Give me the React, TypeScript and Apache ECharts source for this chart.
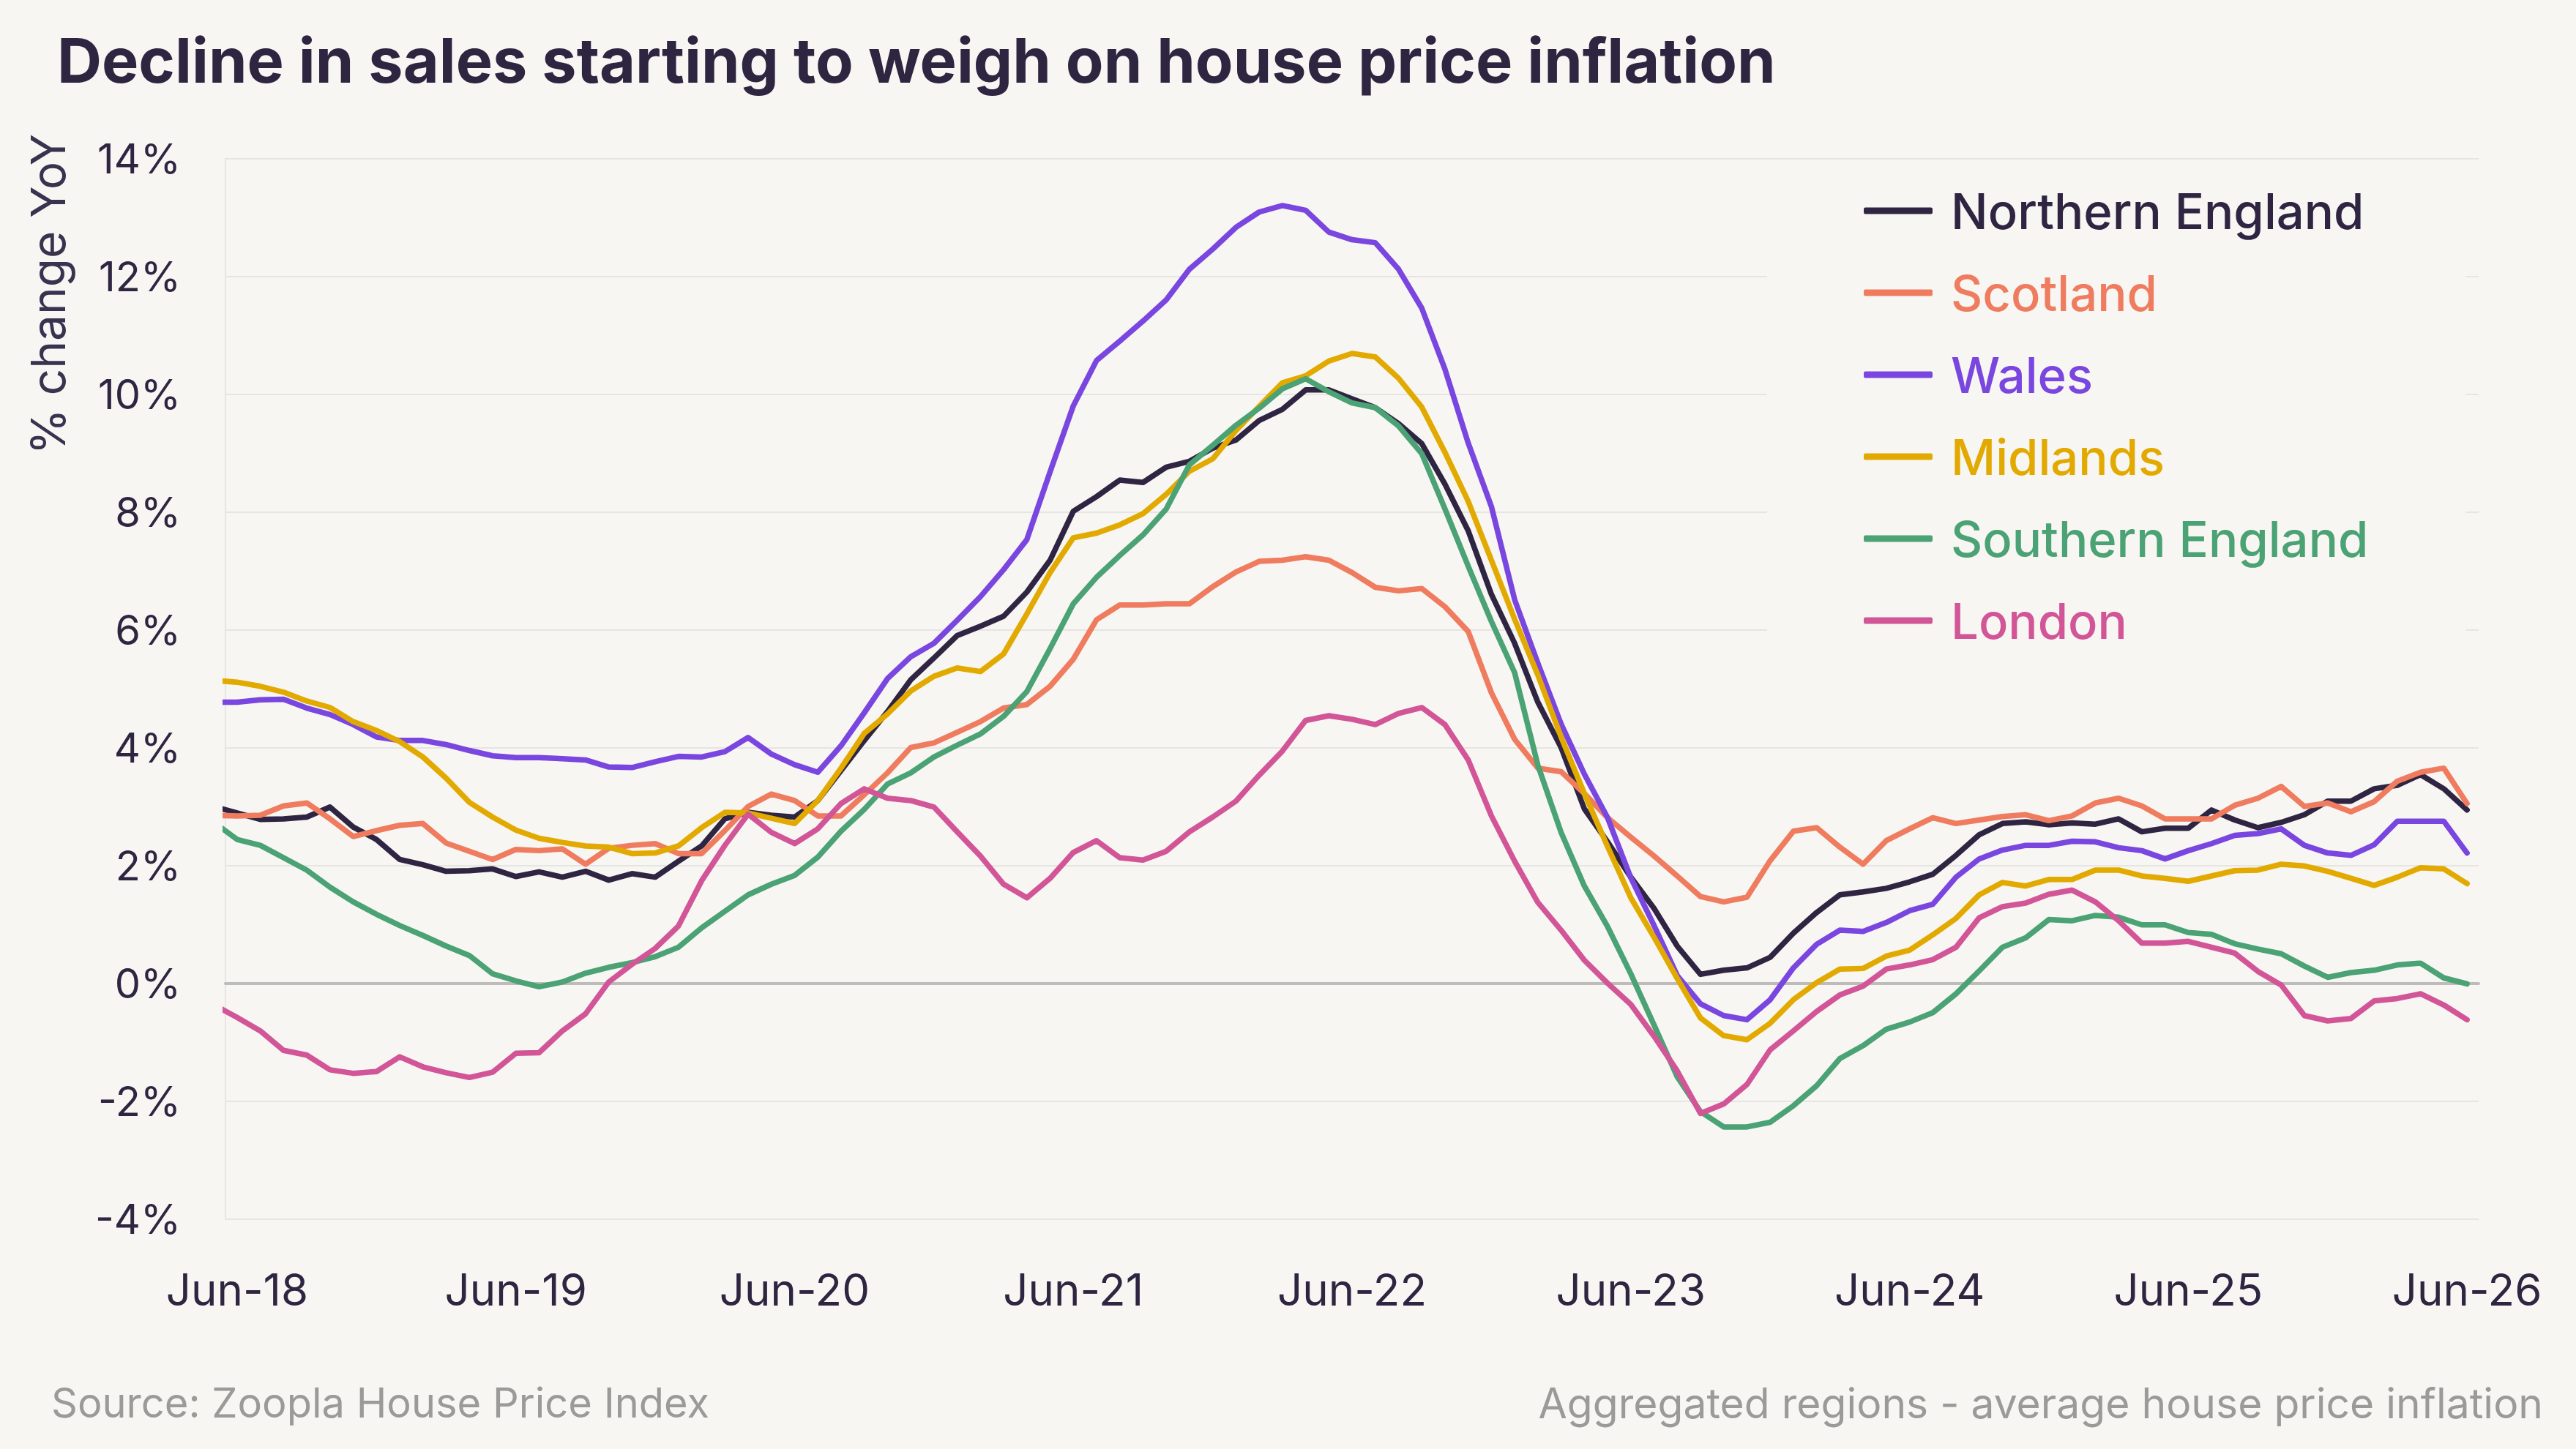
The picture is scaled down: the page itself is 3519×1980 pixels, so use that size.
import React, { useEffect, useRef } from "react";
import * as echarts from "echarts";

const BG = "#f7f6f3";
const INK = "#2e2541";
const GRID = "#e7e5e1";
const NOTE = "#9b9a99";

const TITLE = "Decline in sales starting to weigh on house price inflation";
const Y_NAME = "% change YoY";
const SOURCE_LEFT = "Source: Zoopla House Price Index";
const SOURCE_RIGHT = "Aggregated regions - average house price inflation";

const MONTH_ABBR = ["Jan", "Feb", "Mar", "Apr", "May", "Jun", "Jul", "Aug", "Sep", "Oct", "Nov", "Dec"];
// May-18 (lead-in, clipped at the axis) to Jun-26
const MONTHS: string[] = [];
for (let y = 2018; y <= 2026; y++) {
  for (let m = 0; m < 12; m++) {
    if ((y === 2018 && m < 4) || (y === 2026 && m > 5)) continue;
    MONTHS.push(`${MONTH_ABBR[m]}-${String(y).slice(2)}`);
  }
}
const CATEGORIES = MONTHS.slice(1); // Jun-18 .. Jun-26

const Y_MIN = -4;
const Y_MAX = 14;
const Y_STEP = 2;

// values: May-18, then Jun-18 .. Jun-26
const northernEngland = [
  3.0,
  2.89, 2.78, 2.79, 2.82, 2.99, 2.65, 2.44, 2.10, 2.01, 1.90, 1.91, 1.94,
  1.81, 1.89, 1.80, 1.90, 1.75, 1.86, 1.80, 2.07, 2.33, 2.79, 2.90, 2.85,
  2.82, 3.10, 3.61, 4.12, 4.61, 5.15, 5.52, 5.90, 6.06, 6.23, 6.64, 7.18,
  8.01, 8.26, 8.54, 8.50, 8.76, 8.86, 9.08, 9.22, 9.55, 9.74, 10.07, 10.07,
  9.92, 9.77, 9.50, 9.16, 8.47, 7.68, 6.60, 5.77, 4.77, 4.00, 2.96, 2.40,
  1.80, 1.27, 0.63, 0.15, 0.22, 0.26, 0.44, 0.85, 1.20, 1.50, 1.55, 1.61,
  1.72, 1.85, 2.17, 2.52, 2.71, 2.74, 2.69, 2.72, 2.70, 2.79, 2.57, 2.63,
  2.63, 2.94, 2.77, 2.64, 2.73, 2.86, 3.09, 3.09, 3.30, 3.36, 3.54, 3.30,
  2.94,
];
const scotland = [
  2.85,
  2.84, 2.85, 3.01, 3.06, 2.79, 2.49, 2.59, 2.68, 2.71, 2.38, 2.24, 2.10,
  2.27, 2.25, 2.28, 2.02, 2.29, 2.34, 2.37, 2.20, 2.20, 2.59, 3.00, 3.21,
  3.10, 2.84, 2.84, 3.20, 3.57, 4.00, 4.08, 4.26, 4.44, 4.67, 4.73, 5.04,
  5.50, 6.17, 6.42, 6.42, 6.44, 6.44, 6.73, 6.98, 7.16, 7.18, 7.24, 7.18,
  6.97, 6.72, 6.66, 6.70, 6.39, 5.97, 4.93, 4.14, 3.65, 3.59, 3.22, 2.81,
  2.48, 2.16, 1.82, 1.47, 1.38, 1.46, 2.08, 2.58, 2.64, 2.31, 2.02, 2.42,
  2.62, 2.81, 2.71, 2.77, 2.83, 2.86, 2.76, 2.84, 3.06, 3.14, 3.01, 2.79,
  2.79, 2.79, 3.02, 3.14, 3.34, 3.00, 3.06, 2.91, 3.08, 3.43, 3.58, 3.65,
  3.05,
];
const wales = [
  4.77,
  4.77, 4.81, 4.82, 4.67, 4.56, 4.39, 4.18, 4.12, 4.12, 4.05, 3.95, 3.86,
  3.83, 3.83, 3.81, 3.79, 3.67, 3.66, 3.76, 3.85, 3.84, 3.93, 4.17, 3.89,
  3.71, 3.58, 4.03, 4.59, 5.17, 5.54, 5.77, 6.16, 6.56, 7.02, 7.53, 8.68,
  9.80, 10.57, 10.90, 11.24, 11.60, 12.12, 12.46, 12.83, 13.09, 13.20, 13.12, 12.75,
  12.62, 12.57, 12.12, 11.46, 10.42, 9.17, 8.09, 6.51, 5.43, 4.40, 3.55, 2.81,
  1.79, 0.98, 0.13, -0.35, -0.55, -0.62, -0.28, 0.26, 0.66, 0.90, 0.88, 1.03,
  1.23, 1.34, 1.80, 2.11, 2.26, 2.34, 2.34, 2.41, 2.40, 2.30, 2.25, 2.11,
  2.25, 2.37, 2.51, 2.54, 2.62, 2.34, 2.21, 2.17, 2.35, 2.75, 2.75, 2.75,
  2.21,
];
const midlands = [
  5.14,
  5.11, 5.04, 4.94, 4.79, 4.68, 4.44, 4.29, 4.10, 3.84, 3.48, 3.07, 2.82,
  2.60, 2.46, 2.39, 2.33, 2.31, 2.20, 2.21, 2.33, 2.64, 2.90, 2.89, 2.80,
  2.71, 3.10, 3.65, 4.24, 4.57, 4.96, 5.21, 5.35, 5.29, 5.59, 6.27, 6.97,
  7.56, 7.64, 7.78, 7.97, 8.30, 8.69, 8.90, 9.38, 9.79, 10.19, 10.31, 10.56,
  10.69, 10.63, 10.27, 9.78, 9.01, 8.18, 7.18, 6.18, 5.23, 4.18, 3.22, 2.32,
  1.45, 0.78, 0.08, -0.59, -0.89, -0.96, -0.68, -0.28, 0.01, 0.24, 0.25, 0.46,
  0.56, 0.82, 1.10, 1.50, 1.71, 1.65, 1.76, 1.76, 1.92, 1.92, 1.82, 1.78,
  1.73, 1.82, 1.91, 1.92, 2.02, 1.99, 1.90, 1.78, 1.66, 1.80, 1.96, 1.94,
  1.69,
];
const southernEngland = [
  2.73,
  2.44, 2.34, 2.13, 1.92, 1.63, 1.38, 1.17, 0.98, 0.81, 0.63, 0.47, 0.16,
  0.04, -0.06, 0.02, 0.17, 0.27, 0.35, 0.45, 0.61, 0.94, 1.22, 1.50, 1.68,
  1.83, 2.14, 2.58, 2.95, 3.38, 3.57, 3.84, 4.04, 4.23, 4.53, 4.95, 5.68,
  6.44, 6.89, 7.26, 7.61, 8.05, 8.80, 9.13, 9.47, 9.76, 10.09, 10.26, 10.04,
  9.85, 9.77, 9.46, 8.99, 8.05, 7.08, 6.14, 5.27, 3.70, 2.56, 1.65, 0.96,
  0.16, -0.71, -1.59, -2.18, -2.44, -2.44, -2.36, -2.08, -1.74, -1.28, -1.06, -0.78,
  -0.66, -0.50, -0.18, 0.21, 0.61, 0.77, 1.08, 1.06, 1.15, 1.12, 0.99, 0.99,
  0.86, 0.83, 0.67, 0.58, 0.50, 0.29, 0.10, 0.18, 0.22, 0.31, 0.34, 0.09,
  -0.01,
];
const london = [
  -0.37,
  -0.58, -0.81, -1.14, -1.22, -1.47, -1.53, -1.50, -1.25, -1.42, -1.52, -1.60, -1.51,
  -1.19, -1.18, -0.81, -0.52, 0.02, 0.32, 0.59, 0.97, 1.74, 2.34, 2.87, 2.56,
  2.37, 2.62, 3.05, 3.30, 3.14, 3.10, 2.99, 2.57, 2.16, 1.68, 1.45, 1.78,
  2.22, 2.42, 2.13, 2.09, 2.24, 2.57, 2.82, 3.09, 3.53, 3.94, 4.46, 4.54,
  4.48, 4.39, 4.58, 4.68, 4.39, 3.79, 2.84, 2.07, 1.37, 0.90, 0.39, 0.00,
  -0.36, -0.90, -1.49, -2.21, -2.05, -1.72, -1.13, -0.81, -0.48, -0.20, -0.05, 0.24,
  0.31, 0.40, 0.61, 1.11, 1.30, 1.36, 1.51, 1.58, 1.38, 1.06, 0.68, 0.68,
  0.71, 0.61, 0.51, 0.20, -0.03, -0.55, -0.64, -0.60, -0.30, -0.26, -0.18, -0.37,
  -0.62,
];

const SERIES = [
  { name: "Northern England", color: "#2f2542", values: northernEngland },
  { name: "Scotland", color: "#ef7c5e", values: scotland },
  { name: "Wales", color: "#7a46e0", values: wales },
  { name: "Midlands", color: "#e2aa00", values: midlands },
  { name: "Southern England", color: "#4ba274", values: southernEngland },
  { name: "London", color: "#d25697", values: london },
];

const FONT = "Inter";

export default function App() {
  const ref = useRef<HTMLDivElement>(null);

  useEffect(() => {
    if (!ref.current) return;
    const chart = echarts.init(ref.current, undefined, { renderer: "svg" });
    const option: any = {
      animation: false,
      backgroundColor: BG,
      color: SERIES.map((s) => s.color),
      title: {
        text: TITLE,
        left: 78,
        top: 39,
        padding: 0,
        textStyle: { fontFamily: FONT, fontSize: 84.5, fontWeight: 700, color: INK, lineHeight: 85 },
      },
      grid: { left: 308, right: 133, top: 216.5, bottom: 314.5, containLabel: false },
      legend: {
        orient: "vertical",
        left: 2414,
        top: 233,
        padding: [20, 133, 60, 132],
        backgroundColor: BG,
        itemWidth: 94,
        itemHeight: 9,
        itemGap: 42,
        icon: "roundRect",
        selectedMode: false,
        textStyle: { fontFamily: FONT, fontSize: 67, fontWeight: 500, lineHeight: 70, padding: [0, 0, 0, 20] },
        data: SERIES.map((s) => ({ name: s.name, textStyle: { color: s.color } })),
      },
      xAxis: [
        {
          type: "category",
          data: CATEGORIES,
          boundaryGap: true,
          axisLine: { show: false, onZero: false },
          axisTick: { show: false },
          splitLine: { show: false },
          axisLabel: {
            interval: 11,
            margin: 66,
            fontFamily: FONT,
            fontSize: 60,
            color: INK,
          },
        },
        {
          type: "value",
          min: -0.5,
          max: 96.5,
          axisLine: { show: true, onZero: true, lineStyle: { color: "#bdbcba", width: 4 } },
          axisTick: { show: false },
          axisLabel: { show: false },
          splitLine: { show: false },
        },
      ],
      yAxis: {
        type: "value",
        min: Y_MIN,
        max: Y_MAX,
        interval: Y_STEP,
        axisLine: { show: true, onZero: false, lineStyle: { color: GRID, width: 2 } },
        axisTick: { show: false },
        splitLine: { show: true, lineStyle: { color: GRID, width: 2 } },
        axisLabel: {
          formatter: "{value}%",
          margin: 61,
          fontFamily: FONT,
          fontSize: 56,
          color: INK,
        },
      },
      graphic: [
        {
          type: "text",
          x: 65,
          y: 402,
          rotation: Math.PI / 2,
          style: {
            text: Y_NAME,
            fontFamily: FONT,
            fontSize: 64,
            fontWeight: 400,
            fill: "#3a3350",
            align: "center",
            verticalAlign: "middle",
            textAlign: "center",
            textVerticalAlign: "middle",
          },
        },
        {
          type: "text",
          x: 70,
          y: 1917,
          style: {
            text: SOURCE_LEFT,
            fontFamily: FONT,
            fontSize: 56,
            fill: NOTE,
            align: "left",
            verticalAlign: "middle",
            textAlign: "left",
            textVerticalAlign: "middle",
          },
        },
        {
          type: "text",
          x: 3474,
          y: 1917,
          style: {
            text: SOURCE_RIGHT,
            fontFamily: FONT,
            fontSize: 57,
            fill: NOTE,
            align: "right",
            verticalAlign: "middle",
            textAlign: "right",
            textVerticalAlign: "middle",
          },
        },
      ],
      series: SERIES.map((s) => ({
        name: s.name,
        type: "line",
        xAxisIndex: 1,
        yAxisIndex: 0,
        data: s.values.map((v, i) => [i - 1, v]),
        symbol: "none",
        showSymbol: false,
        clip: true,
        silent: true,
        lineStyle: { width: 7.5, color: s.color, cap: "round", join: "round" },
        itemStyle: { color: s.color },
        emphasis: { disabled: true },
      })),
    };
    chart.setOption(option);
    return () => chart.dispose();
  }, []);

  return (
    <div
      ref={ref}
      style={{ position: "fixed", left: 0, top: 0, width: 3519, height: 1980, background: BG }}
    />
  );
}
